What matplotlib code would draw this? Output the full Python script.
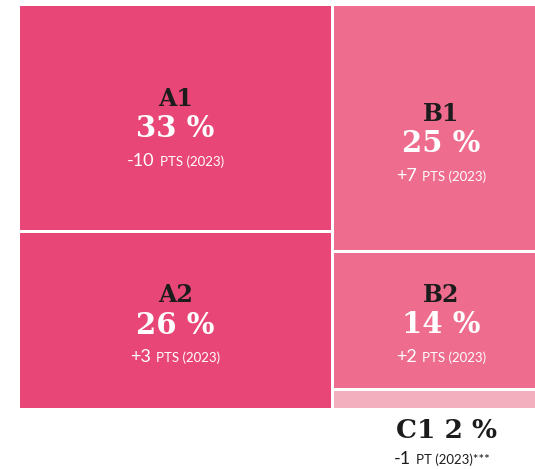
import matplotlib
matplotlib.use("Agg")
import matplotlib.pyplot as plt
from matplotlib.patches import Rectangle

# ---- data ----
groups = ["A", "A", "B", "B", "C"]
labels = ["A1", "A2", "B1", "B2", "C1"]
shares = [33, 26, 25, 14, 2]
deltas = ["-10", "+3", "+7", "+2", "-1"]
units = ["PTS (2023)", "PTS (2023)", "PTS (2023)", "PTS (2023)", "PT (2023)***"]

# ---- style ----
colors = {"A": "#E84677", "B": "#EE6D8E", "C": "#F4AFBE"}
W, H = 535, 469
GAP = 1.5
X0, X1, Y0, Y1 = 20 - GAP, 549 + GAP, 6 - GAP, 408 + GAP
label_shift = {"A1": 1, "A2": -5, "B1": 6, "B2": -6}
SUB_FONT = "Lato"
SUB_SEP = 5

fig = plt.figure(figsize=(W / 100, H / 100), dpi=100)
ax = fig.add_axes([0, 0, 1, 1])
ax.set_xlim(0, W)
ax.set_ylim(H, 0)
ax.axis("off")
renderer = fig.canvas.get_renderer()

total = sum(shares)
cols = [["A"], ["B", "C"]]
x = X0
rects = {}
for col in cols:
    idx = [i for i, g in enumerate(groups) if g in col]
    csum = sum(shares[i] for i in idx)
    cw = (X1 - X0) * csum / total
    y = Y0
    for i in idx:
        h = (Y1 - Y0) * shares[i] / csum
        rects[i] = (x, y, cw, h)
        y += h
    x += cw


def sub_line(i, cx, cy, color):
    t1 = ax.text(0, cy, deltas[i], ha="left", va="baseline", fontsize=13,
                 color=color, family=SUB_FONT)
    t2 = ax.text(0, cy, units[i], ha="left", va="baseline",
                 fontsize=9.5, color=color, family=SUB_FONT)
    w1 = t1.get_window_extent(renderer).width
    w2 = t2.get_window_extent(renderer).width
    left = cx - (w1 + SUB_SEP + w2) / 2  # 1 data unit == 1 pixel
    t1.set_x(left)
    t2.set_x(left + w1 + SUB_SEP)


for i, (x, y, w, h) in rects.items():
    ax.add_patch(Rectangle((x + GAP, y + GAP), w - 2 * GAP, h - 2 * GAP,
                           facecolor=colors[groups[i]], edgecolor="none"))
    cx = x + w / 2
    cy = y + h / 2
    if groups[i] != "C":
        s = label_shift.get(labels[i], 0)
        ax.text(cx, cy - 20 + s, labels[i], ha="center", va="center",
                fontsize=17, weight="bold", family="DejaVu Serif",
                color="#1c1c1c")
        ax.text(cx, cy + 10 + s, f"{shares[i]} %", ha="center", va="center",
                fontsize=21, weight="bold", family="DejaVu Serif",
                color="white")
        sub_line(i, cx, cy + 47 + s, "white")
    else:
        ax.text(cx + 5, Y1 + 21, f"{labels[i]} {shares[i]} %", ha="center",
                va="center", fontsize=19, weight="bold",
                family="DejaVu Serif", color="#1c1c1c")
        sub_line(i, cx, Y1 + 55, "#1c1c1c")

fig.savefig("out.png", dpi=100)
